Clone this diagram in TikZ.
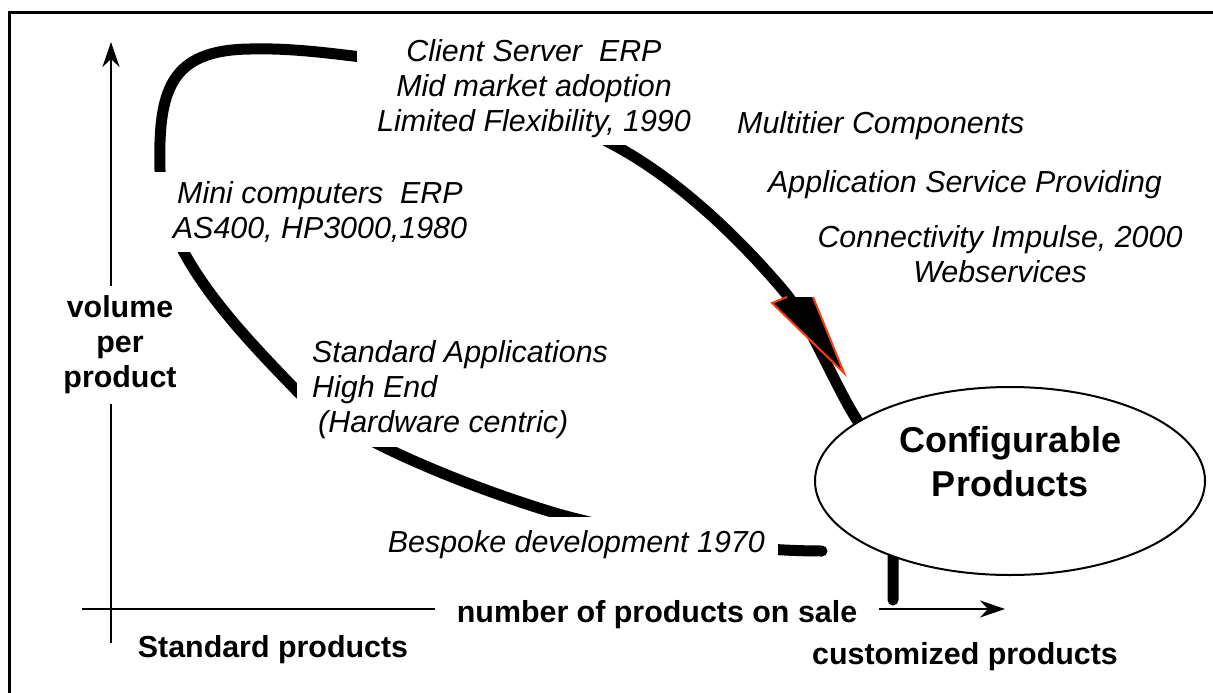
\documentclass[tikz,border=0pt]{standalone}
\usepackage{fontspec}
\setmainfont{Liberation Sans}
\usetikzlibrary{arrows.meta,shapes.geometric}
\definecolor{tipred}{RGB}{250,60,10}

\tikzset{
	era/.style={font=\itshape\fontsize{30.4}{35}\selectfont, fill=white, inner xsep=20pt, inner ysep=7pt, align=center},
	plain era/.style={font=\itshape\fontsize{30.4}{35}\selectfont, inner sep=0pt, align=center},
	axis label/.style={font=\bfseries\fontsize{30.4}{35}\selectfont, inner sep=0pt, align=center},
	axis/.style={line width=2.5pt, -{Stealth[length=25pt,width=17pt,inset=8pt]}},
	track/.style={line width=11pt, line cap=round},
}

\begin{document}
\begin{tikzpicture}[x=1pt, y=-1pt]
	%%%%% START %%%%%
	\useasboundingbox (0,0) rectangle (1213,693);
	\draw[line width=3pt] (9,12.5) rectangle (1240,720);
	
	\coordinate (ybottom) at (111,643);
	\coordinate (ytop) at (111,42);
	\coordinate (xleft) at (82,609);
	\coordinate (xright) at (1005,609);
	\draw[axis] (ybottom) -- (ytop);
	\draw[axis] (xleft) -- (xright);
	
	\draw[track] (822,551) .. controls (732,551) and (620,532) .. (555,513)
		.. controls (470,487.5) and (342,437) .. (297,391)
		.. controls (237,329) and (160,250) .. (160,170)
		.. controls (158,90) and (170,50) .. (250,49)
		.. controls (285,48) and (320,52) .. (353,56)
		.. controls (453,66) and (502,86) .. (612,144)
		.. controls (682,181) and (744,244) .. (783,290)
		.. controls (809,320) and (835,386) .. (857,420)
		.. controls (880,456) and (893,500) .. (893,540) -- (893,600);
	
	\fill (787,297) -- (772,303) -- (844,373) -- (813,297) -- cycle;
	\draw[tipred, line width=2pt] (787,297) -- (772,303) -- (844,373) -- (813,297);
	
	\node[era] (client) at (534,88.5) {Client Server\ \ ERP\\Mid market adoption\\Limited Flexibility, 1990};
	\node[era, inner xsep=23pt, inner ysep=10pt] (mini) at (320,212) {Mini computers\ \ ERP\\AS400, HP3000,1980};
	\node[era, align=left, anchor=west, inner xsep=15pt, inner ysep=7.5pt] (stdapp) at (297,390) {Standard Applications\\High End\\\hspace*{6pt}(Hardware centric)};
	\node[era, anchor=north east, inner xsep=13pt, inner ysep=13pt] (bespoke) at (778,517) {Bespoke development 1970};
	\node[plain era, anchor=base west] (multitier) at (737,133) {Multitier Components};
	\node[plain era, anchor=base west] (asp) at (768,192) {Application Service Providing};
	\node[plain era] (connect) at (1000,254) {Connectivity Impulse, 2000\\Webservices};
	
	\node[axis label, fill=white, inner xsep=4pt, inner ysep=10pt] (volume) at (120,345) {volume\\per\\product};
	\node[axis label, fill=white, inner xsep=22pt, inner ysep=2pt] (onsale) at (657,615) {number of products on sale};
	\node[axis label] (stdprod) at (273,650) {Standard products};
	\node[axis label] (custprod) at (965,657) {customized products};
	
	\node[draw, ellipse, fill=white, line width=2pt, minimum width=390pt, minimum height=188pt, inner sep=0pt] (conf) at (1010,481) {};
	\node[axis label, font=\bfseries\fontsize{36}{44}\selectfont] (conflabel) at (1010,462) {Configurable\\Products};
	%%%%% END %%%%%
\end{tikzpicture}
\end{document}
